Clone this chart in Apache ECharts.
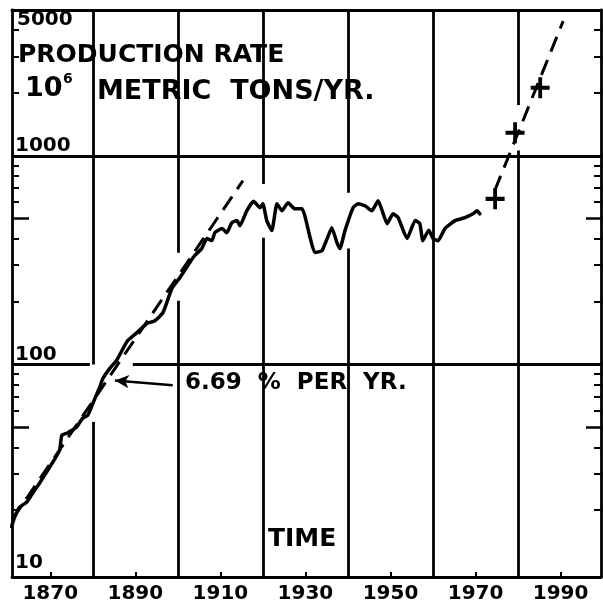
<!DOCTYPE html>
<html><head><meta charset="utf-8">
<script src="https://cdn.jsdelivr.net/npm/echarts@6/dist/echarts.min.js"></script>
<style>html,body{margin:0;padding:0;background:#fff}#c{width:603px;height:605px}</style>
</head><body><div id="c"></div>
<script>
// ---- data ----
const years = [1860.9,1861.6,1862.8,1864.5,1865.9,1867.5,1869.4,1870.6,1872.2,1872.7,1873.9,1875.1,1876.2,1877.6,1878.8,1880.0,1881.6,1882.4,1884.0,1885.6,1887.1,1888.2,1890.4,1892.7,1894.6,1896.5,1898.6,1900.5,1902.8,1904.0,1905.6,1906.8,1908.0,1908.7,1910.4,1911.5,1912.7,1913.9,1914.6,1916.2,1917.8,1919.3,1920.0,1920.9,1922.1,1923.3,1924.5,1925.9,1927.5,1929.2,1931.1,1932.2,1933.9,1935.1,1936.2,1937.4,1938.1,1939.3,1941.2,1942.4,1944.0,1945.6,1947.1,1948.2,1949.2,1950.6,1951.8,1953.9,1955.8,1956.9,1957.6,1959.0,1960.0,1961.2,1962.8,1965.2,1967.5,1969.4,1970.4,1971.0];
const production = [16.7,18.5,20.7,21.9,24.2,27.0,31.1,34.0,38.8,45.7,46.8,48.3,50.0,55.2,57.0,65.0,77.6,85.8,95.7,104.5,119,130,142,157,162,177,231,261,308,333,359,401,392,428,448,428,478,489,462,545,605,564,589,489,438,589,545,596,557,557,405,344,351,401,452,384,359,438,564,589,576,545,609,534,473,527,505,401,489,473,392,440,401,392,448,489,505,527,545,527];
const earlyFitYears = [1861, 1915.3];
const earlyFitValues = [18, 760];
const lateFitYears = [1974.5, 1990.6];
const lateFitValues = [680, 4420];
const projYears = [1974.6, 1979.3, 1985.2];
const projValues = [622, 1290, 2120];
const xTickLabels = [1870, 1890, 1910, 1930, 1950, 1970, 1990];
const yTickLabels = [10, 100, 1000, 5000];
const gridYears = [1880, 1900, 1920, 1940, 1960, 1980];
const gridValues = [100, 1000];
const minorTickValues = [20,30,40,60,70,80,90,200,300,400,600,700,800,900,2000,3000,4000];
const midTickValues = [50, 500];
const arrowFrom = [1898.8, 79.4];
const arrowTo = [1885.2, 83.8];

// ---- layout / style ----
const FONT = 'DejaVu Sans';
const INK = '#000';
const X_MIN = 1861, X_MAX = 1999.5, Y_MIN = 9.57, Y_MAX = 5000;

// gaps in the hand-drawn grid lines (value ranges left blank)
const vGaps = {1880: [53, 100], 1900: [202, 343], 1920: [405, 733], 1940: [359, 665], 1980: [1060, 1750]};
const hGaps = {100: [1879.3, 1889.4]};
const gridSegs = [];
gridYears.forEach(yr => {
  const g = vGaps[yr];
  if (g) {
    gridSegs.push([{coord: [yr, Y_MIN]}, {coord: [yr, g[0]]}]);
    gridSegs.push([{coord: [yr, g[1]]}, {coord: [yr, Y_MAX]}]);
  } else {
    gridSegs.push([{coord: [yr, Y_MIN]}, {coord: [yr, Y_MAX]}]);
  }
});
gridValues.forEach(v => {
  const g = hGaps[v];
  if (g) {
    gridSegs.push([{coord: [X_MIN, v]}, {coord: [g[0], v]}]);
    gridSegs.push([{coord: [g[1], v]}, {coord: [X_MAX, v]}]);
  } else {
    gridSegs.push([{coord: [X_MIN, v]}, {coord: [X_MAX, v]}]);
  }
});

const plain = v => String(Math.round(v));
const txt = {fontFamily: FONT, fontWeight: 'bold', color: INK, formatter: plain};
const axisLineStyle = {show: true, onZero: false, lineStyle: {color: INK, width: 2.8}};
function logAxis(pos, extra) {
  return Object.assign({
    type: 'log', logBase: 10, position: pos, min: Y_MIN, max: Y_MAX,
    axisLine: {show: false}, splitLine: {show: false}, minorTick: {show: false},
    axisTick: {show: false}, axisLabel: {show: false}
  }, extra);
}

const chart = echarts.init(document.getElementById('c'), null, {renderer: 'canvas'});
chart.setOption({
  animation: false,
  backgroundColor: '#fff',
  grid: {left: 12, right: 2, top: 10, bottom: 28, containLabel: false},
  xAxis: [
    {type: 'value', position: 'bottom', min: X_MIN, max: X_MAX,
     axisLine: axisLineStyle, splitLine: {show: false},
     axisTick: {show: true, inside: true, length: 5, customValues: xTickLabels, lineStyle: {color: INK, width: 2}},
     axisLabel: Object.assign({customValues: xTickLabels, margin: 7, fontSize: 20}, txt)},
    {type: 'value', position: 'top', min: X_MIN, max: X_MAX,
     axisLine: axisLineStyle, splitLine: {show: false}, axisTick: {show: false}, axisLabel: {show: false}}
  ],
  yAxis: [
    logAxis('left', {axisLine: axisLineStyle,
      axisTick: {show: true, inside: true, length: 7, customValues: minorTickValues, lineStyle: {color: INK, width: 2}},
      axisLabel: Object.assign({show: true, inside: true, customValues: yTickLabels.filter(v => v < 5000), verticalAlign: 'bottom', margin: 3, fontSize: 20}, txt)}),
    logAxis('left', {
      axisTick: {show: true, inside: true, length: 17, customValues: midTickValues, lineStyle: {color: INK, width: 2.5}},
      axisLabel: Object.assign({show: true, inside: true, customValues: yTickLabels.filter(v => v >= 5000), verticalAlign: 'top', margin: 5, fontSize: 20}, txt)}),
    logAxis('right', {axisLine: axisLineStyle,
      axisTick: {show: true, inside: true, length: 7, customValues: minorTickValues, lineStyle: {color: INK, width: 2}}}),
    logAxis('right', {
      axisTick: {show: true, inside: true, length: 15, customValues: midTickValues, lineStyle: {color: INK, width: 2.5}}})
  ],
  series: [
    {name: 'grid', type: 'line', data: [], silent: true,
     markLine: {silent: true, symbol: ['none', 'none'], label: {show: false},
       lineStyle: {color: INK, width: 2.8, type: 'solid'}, data: gridSegs}},
    {name: 'production', type: 'line', showSymbol: false, smooth: 0.15,
     lineStyle: {color: INK, width: 3.5, join: 'round', cap: 'round'}, z: 5,
     data: years.map((y, i) => [y, production[i]])},
    {name: 'fit1', type: 'line', showSymbol: false,
     lineStyle: {color: INK, width: 3, type: [16, 9]}, z: 4,
     data: earlyFitYears.map((y, i) => [y, earlyFitValues[i]])},
    {name: 'fit2', type: 'line', showSymbol: false,
     lineStyle: {color: INK, width: 3, type: [16, 9]}, z: 4,
     data: lateFitYears.map((y, i) => [y, lateFitValues[i]])},
    {name: 'projection', type: 'scatter', z: 6,
     symbol: 'path://M4,0H6V10H4Z M0,4H10V6H0Z', symbolSize: [19, 21],
     itemStyle: {color: INK, opacity: 1},
     data: projYears.map((y, i) => [y, projValues[i]])},
    {name: 'arrow', type: 'line', data: [], silent: true,
     markLine: {silent: true, symbol: ['none', 'arrow'], symbolSize: [10, 14], label: {show: false},
       lineStyle: {color: INK, width: 2.5, type: 'solid'},
       data: [[{coord: arrowFrom}, {coord: arrowTo}]]}}
  ],
  graphic: [
    {type: 'text', x: 18, y: 55, style: {text: 'PRODUCTION RATE', font: 'bold 25px "DejaVu Sans"', fill: INK, verticalAlign: 'middle'}},
    {type: 'text', x: 25, y: 89, style: {text: '10', font: 'bold 27px "DejaVu Sans"', fill: INK, verticalAlign: 'middle'}},
    {type: 'text', x: 63, y: 79, style: {text: '6', font: 'bold 14px "DejaVu Sans"', fill: INK, verticalAlign: 'middle'}},
    {type: 'text', x: 97, y: 92, style: {text: 'METRIC  TONS/YR.', font: 'bold 27px "DejaVu Sans"', fill: INK, verticalAlign: 'middle'}},
    {type: 'text', x: 268, y: 539, style: {text: 'TIME', font: 'bold 25px "DejaVu Sans"', fill: INK, verticalAlign: 'middle'}},
    {type: 'text', x: 185, y: 383, style: {text: '6.69  %  PER  YR.', font: 'bold 23px "DejaVu Sans"', fill: INK, verticalAlign: 'middle'}}
  ]
});
</script></body></html>
